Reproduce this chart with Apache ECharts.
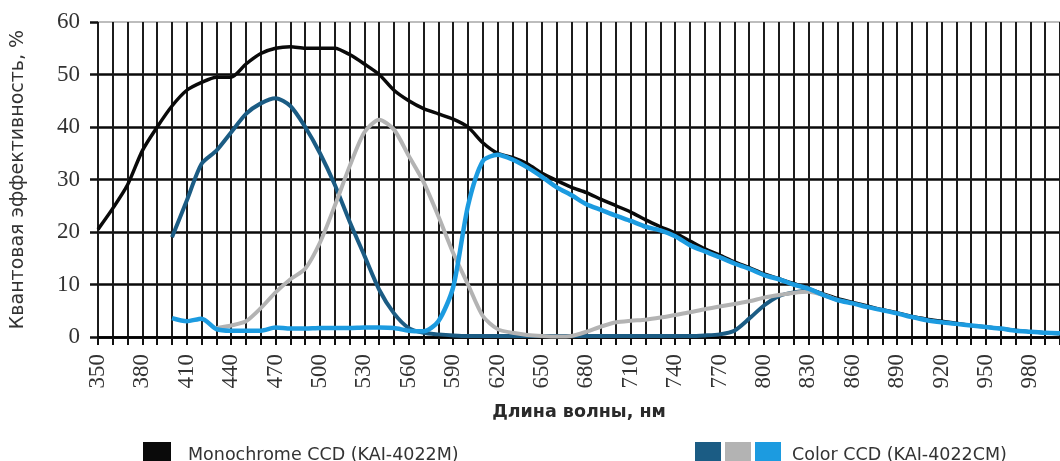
<!DOCTYPE html>
<html>
<head>
<meta charset="utf-8">
<script src="https://cdn.jsdelivr.net/npm/echarts@6/dist/echarts.min.js"></script>
<style>
  html, body { margin: 0; padding: 0; background: #fff; }
  #chart { width: 1060px; height: 461px; }
</style>
</head>
<body>
<div id="chart"></div>
<script>
// Wavelength ticks (nm) and quantum efficiency curves (%)
const monoWavelengths = [350,360,370,380,390,400,410,420,430,440,450,460,470,480,490,500,510,520,530,540,550,560,570,580,590,600,610,620,630,640,650,660,670,680,690,700,710,720,730,740,750,760,770,780,790,800,810,820,830,840,850,860,870,880,890,900,910,920,930,940,950,960,970,980,990,1000];
const monoQE = [20.5,24.5,29,35.5,40,44,47,48.5,49.5,49.5,52,54,55,55.3,55,55,55,53.8,52,50,47,45,43.5,42.5,41.5,40,37,35,34.2,33,31.2,29.8,28.5,27.5,26.2,25,23.8,22.3,21,19.8,18.3,16.8,15.6,14.3,13.2,12,11.1,10.2,9.2,8.2,7.3,6.6,5.9,5.2,4.6,3.9,3.4,3,2.6,2.2,1.9,1.6,1.3,1,0.8,0.6];

const colorBWavelengths = [400,410,420,430,440,450,460,470,480,490,500,510,520,530,540,550,560,570,580,590,600,610,620,630,640,650,660,670,680,690,700,710,720,730,740,750,760,770,780,790,800,810,820,830,840];
const colorBQE = [19,26,33,35.5,39,42.5,44.5,45.5,44,40,35,29,22,15.5,9,4.5,1.7,0.8,0.5,0.3,0.2,0.2,0.2,0.2,0.2,0.2,0.2,0.2,0.2,0.2,0.2,0.2,0.2,0.2,0.2,0.2,0.3,0.5,1.2,3.5,6,7.8,8.5,8.8,8.2];

const colorGWavelengths = [430,440,450,460,470,480,490,500,510,520,530,540,550,560,570,580,590,600,610,620,630,640,650,660,670,680,690,700,710,720,730,740,750,760,770,780,790,800,810,820,830,840,850];
const colorGQE = [1.7,2.2,3,5.5,8.5,11,13,18,25,32.5,39,41.4,39.5,34.5,29.5,23,16,10,4,1.5,0.8,0.4,0.2,0.1,0.2,1,2,2.8,3.1,3.3,3.7,4.2,4.7,5.3,5.8,6.3,6.8,7.5,8,8.4,8.6,8,7];

const colorRWavelengths = [400,410,420,430,440,450,460,470,480,490,500,510,520,530,540,550,560,570,580,590,600,610,620,630,640,650,660,670,680,690,700,710,720,730,740,750,760,770,780,790,800,810,820,830,840,850,860,870,880,890,900,910,920,930,940,950,960,970,980,990,1000];
const colorRQE = [3.6,3,3.5,1.5,1.2,1.2,1.2,1.8,1.6,1.6,1.7,1.7,1.7,1.8,1.8,1.7,1.2,1.1,3,9.5,25,33.5,34.7,33.8,32.3,30.5,28.5,27,25.3,24.2,23.1,22.1,21,20.3,19.2,17.5,16.3,15.2,14,13,11.8,11,10,9.2,8,7,6.4,5.7,5.1,4.5,3.8,3.2,2.8,2.5,2.2,1.9,1.6,1.2,1,0.8,0.7];

const labelStep = 30;
const xStart = 350;
const lastLabel = 980;

const pairs = (xs, ys) => xs.map((x, i) => [x, ys[i]]);

const names = {
  mono: 'Monochrome CCD (KAI-4022M)',
  b: 'Color CCD (KAI-4022CM), B',
  g: 'Color CCD (KAI-4022CM), G',
  r: 'Color CCD (KAI-4022CM)'
};
const colors = { mono: '#0a0a0a', b: '#1b5c84', g: '#b3b3b3', r: '#1c9be0' };

const chart = echarts.init(document.getElementById('chart'), null, { renderer: 'canvas' });

const lineSeries = (key, xs, ys, width) => ({
  name: names[key],
  type: 'line',
  data: pairs(xs, ys),
  showSymbol: false,
  smooth: 0.25,
  lineStyle: { color: colors[key], width: width },
  itemStyle: { color: colors[key] },
  emphasis: { disabled: true }
});

const legendText = { fontFamily: 'DejaVu Sans', fontSize: 17.5, color: '#333' };

chart.setOption({
  animation: false,
  backgroundColor: '#fff',
  // thin grey frame shows along the top edge of the plot
  grid: { left: 98, right: -3, top: 22, bottom: 124, show: true, borderColor: '#a8a8a8', borderWidth: 1.5 },
  xAxis: {
    type: 'value',
    min: 350,
    max: 1000,
    interval: 10,
    name: 'Длина волны, нм',
    nameLocation: 'middle',
    nameGap: 66,
    nameTextStyle: { fontFamily: 'DejaVu Sans', fontWeight: 'bold', fontSize: 17.5, color: '#2a2a2a' },
    axisLine: { show: true, lineStyle: { color: '#000', width: 2.5 } },
    axisTick: { show: true, length: 8, inside: false, lineStyle: { color: '#111', width: 2 } },
    axisLabel: {
      rotate: 90,
      hideOverlap: false,
      margin: 17,
      fontFamily: 'Liberation Serif',
      fontSize: 23,
      color: '#333',
      formatter: v => ((v - xStart) % labelStep === 0 && v <= lastLabel) ? String(v) : ''
    },
    splitLine: { show: true, lineStyle: { color: '#1c1c1c', width: 2 } }
  },
  yAxis: {
    type: 'value',
    min: 0,
    max: 60,
    interval: 10,
    name: 'Квантовая эффективность, %',
    nameLocation: 'middle',
    nameGap: 70,
    nameTextStyle: { fontFamily: 'DejaVu Sans', fontSize: 19, color: '#333' },
    axisLine: { show: false },
    axisTick: { show: true, length: 8, lineStyle: { color: '#111', width: 2.5 } },
    axisLabel: { margin: 18, fontFamily: 'Liberation Serif', fontSize: 23, color: '#333' },
    splitLine: { show: true, showMaxLine: false, lineStyle: { color: '#0a0a0a', width: 2.5 } }
  },
  legend: [
    {
      data: [names.mono],
      left: 138,
      top: 437,
      itemWidth: 28,
      itemHeight: 26,
      icon: 'rect',
      selectedMode: false,
      textStyle: Object.assign({ padding: [0, 0, 0, 12] }, legendText)
    },
    {
      data: [names.b, names.g, names.r],
      left: 690,
      top: 437,
      itemWidth: 26,
      itemHeight: 26,
      itemGap: 4,
      icon: 'rect',
      selectedMode: false,
      formatter: n => (n === names.r ? n : ''),
      textStyle: Object.assign({ padding: [0, 0, 0, 6] }, legendText)
    }
  ],
  series: [
    lineSeries('mono', monoWavelengths, monoQE, 3.5),
    lineSeries('b', colorBWavelengths, colorBQE, 4),
    lineSeries('g', colorGWavelengths, colorGQE, 4),
    lineSeries('r', colorRWavelengths, colorRQE, 4.5)
  ]
});
</script>
</body>
</html>
